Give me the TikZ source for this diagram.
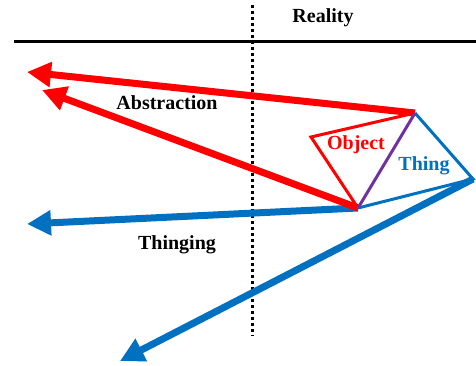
\documentclass[tikz,border=0pt]{standalone}
\usepackage{fontspec}
\setmainfont{Liberation Serif}
\usetikzlibrary{arrows.meta}
\definecolor{myred}{RGB}{255,0,0}
\definecolor{myblue}{RGB}{0,112,192}
\definecolor{mypurple}{RGB}{112,48,160}
\begin{document}
\begin{tikzpicture}[x=1pt,y=-1pt,
  bigarrow/.style={line width=7pt,-{Triangle[length=24pt,width=24pt]}},
  thin3/.style={line width=3pt,line join=miter},
  lbl/.style={font=\fontsize{20}{22}\selectfont\bfseries,inner sep=0pt}]
\useasboundingbox (0,0) rectangle (476,366);
% frame lines
\coordinate (vtop) at (252,5);
\coordinate (vbot) at (252,336);
\coordinate (hl) at (14,42);
\coordinate (hr) at (476,42);
\draw[line width=3pt,dash pattern=on 3pt off 3pt] (vtop) -- (vbot);
\draw[line width=3pt] (hl) -- (hr);
% key points
\coordinate (A) at (415,113);
\coordinate (B) at (358,208);
\coordinate (C) at (311,137);
\coordinate (D) at (473,179);
\coordinate (t1) at (27,72);
\coordinate (t2) at (42,90);
\coordinate (t3) at (27,224);
\coordinate (t4) at (120,361);
% blue arrows
\draw[myblue,bigarrow] (B) -- (t3);
\draw[myblue,bigarrow] (D) -- (t4);
% red arrows
\draw[myred,bigarrow] (A) -- (t1);
\draw[myred,bigarrow] (B) -- (t2);
% thing and object
\draw[myblue,thin3] (A) -- (D) -- (B);
\draw[myred,thin3] (A) -- (C) -- (B);
\draw[mypurple,thin3] (A) -- (B);
% labels
\node[lbl] (reality) at (323,18) {Reality};
\node[lbl] (abstraction) at (167,103) {Abstraction};
\node[lbl,text=myred] (object) at (356,145) {Object};
\node[lbl,text=myblue] (thing) at (424,166) {Thing};
\node[lbl] (thinging) at (177,245) {Thinging};
\end{tikzpicture}
\end{document}
